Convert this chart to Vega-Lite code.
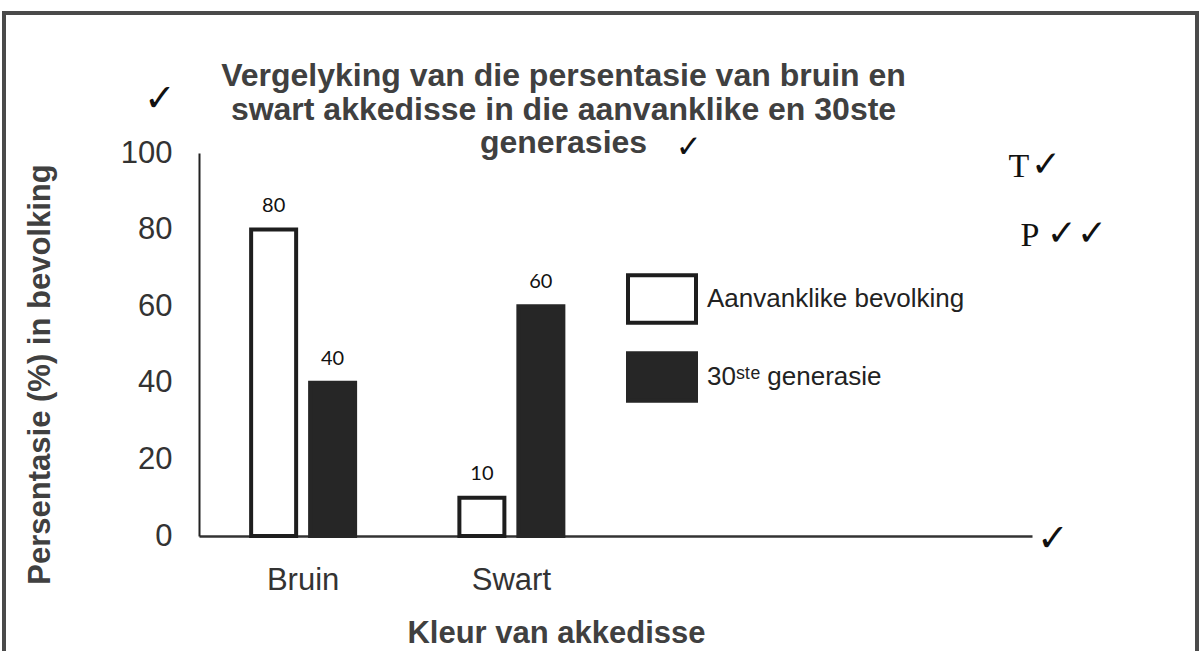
{
  "$schema": "https://vega.github.io/schema/vega-lite/v6.json",
  "width": 1193,
  "height": 660,
  "autosize": {"type": "none"},
  "padding": {"left": 4, "top": 13, "right": 5, "bottom": 0},
  "background": "white",
  "config": {
    "view": {"stroke": "#4a4a4a", "strokeWidth": 4},
    "font": "Liberation Sans"
  },
  "title": {
    "text": ["Vergelyking van die persentasie van  bruin en", "swart akkedisse in die aanvanklike en 30ste", "generasies"],
    "font": "Liberation Sans",
    "fontSize": 32,
    "fontWeight": "bold",
    "color": "#404040",
    "anchor": "middle",
    "frame": "group",
    "lineHeight": 33.5,
    "offset": 0,
    "dx": -37,
    "dy": 147
  },
  "datasets": {
    "balke": [
      {"kleur": "Bruin", "groep": "Aanvanklike bevolking", "pct": 80},
      {"kleur": "Bruin", "groep": "30ste generasie", "pct": 40},
      {"kleur": "Swart", "groep": "Aanvanklike bevolking", "pct": 10},
      {"kleur": "Swart", "groep": "30ste generasie", "pct": 60}
    ]
  },
  "layer": [
    {
      "data": {"name": "balke"},
      "mark": {"type": "bar", "strokeWidth": 4},
      "encoding": {
        "x": {
          "field": "kleur",
          "type": "nominal",
          "sort": null,
          "scale": {"domain": ["Bruin", "Swart", " ", "  "], "range": [195, 1028], "paddingInner": 0, "paddingOuter": 0},
          "axis": {
            "title": "Kleur van akkedisse",
            "offset": -137,
            "ticks": false,
            "tickSize": 0,
            "labelPadding": 29,
            "labelFontSize": 31,
            "labelColor": "#333333",
            "labelAngle": 0,
            "domainColor": "#333333",
            "domainWidth": 2.5,
            "titleFontSize": 31,
            "titleFontWeight": "bold",
            "titleColor": "#404040",
            "titleX": 552,
            "titleY": 97,
            "titleBaseline": "middle",
            "titleAlign": "center"
          }
        },
        "xOffset": {
          "field": "groep",
          "type": "nominal",
          "sort": null,
          "scale": {"domain": ["Aanvanklike bevolking", "30ste generasie"], "paddingInner": 0.237, "paddingOuter": 0.884}
        },
        "y": {
          "field": "pct",
          "type": "quantitative",
          "scale": {"domain": [0, 100], "range": [523, 140], "nice": false},
          "axis": {
            "title": "Persentasie (%) in bevolking",
            "values": [0, 20, 40, 60, 80, 100],
            "offset": -195,
            "grid": false,
            "ticks": false,
            "tickSize": 0,
            "labelPadding": 27,
            "labelFontSize": 31,
            "labelColor": "#333333",
            "domainColor": "#222222",
            "domainWidth": 2,
            "titleFontSize": 31,
            "titleFontWeight": "bold",
            "titleColor": "#404040",
            "titleX": -159,
            "titleY": 361,
            "titleAngle": -90,
            "titleAlign": "center",
            "titleBaseline": "middle"
          }
        },
        "fill": {
          "field": "groep",
          "type": "nominal",
          "scale": {"domain": ["Aanvanklike bevolking", "30ste generasie"], "range": ["#ffffff", "#262626"]},
          "legend": {
            "title": null,
            "orient": "none",
            "legendX": 622,
            "legendY": 250,
            "padding": 0,
            "symbolType": "M-1,-0.7H1V0.7H-1Z",
            "symbolSize": 4624,
            "symbolStrokeWidth": 4,
            "labelFontSize": 26,
            "labelFont": "Liberation Sans",
            "labelColor": "#222222",
            "labelOffset": 9,
            "rowPadding": 10,
            "labelLimit": 400,
            "labelExpr": "datum.label == '30ste generasie' ? '30ˢᵗᵉ generasie' : datum.label"
          }
        },
        "stroke": {
          "field": "groep",
          "type": "nominal",
          "scale": {"domain": ["Aanvanklike bevolking", "30ste generasie"], "range": ["#1e1e1e", "#262626"]},
          "legend": {
            "title": null,
            "orient": "none",
            "legendX": 622,
            "legendY": 250,
            "padding": 0,
            "symbolType": "M-1,-0.7H1V0.7H-1Z",
            "symbolSize": 4624,
            "symbolStrokeWidth": 4,
            "labelFontSize": 26,
            "labelFont": "Liberation Sans",
            "labelColor": "#222222",
            "labelOffset": 9,
            "rowPadding": 10,
            "labelLimit": 400,
            "labelExpr": "datum.label == '30ste generasie' ? '30ˢᵗᵉ generasie' : datum.label"
          }
        }
      }
    },
    {
      "data": {"name": "balke"},
      "mark": {"type": "text", "dy": -18, "baseline": "alphabetic", "font": "Lato", "fontSize": 20, "color": "#111111"},
      "encoding": {
        "x": {"field": "kleur", "type": "nominal"},
        "xOffset": {"field": "groep", "type": "nominal"},
        "y": {"field": "pct", "type": "quantitative"},
        "text": {"field": "pct", "type": "quantitative"}
      }
    },
    {
      "data": {"values": [{"teks": "✓"}]},
      "mark": {"type": "text", "dx": -39, "align": "center", "baseline": "middle", "font": "DejaVu Sans", "fontWeight": "bold", "fontSize": 38, "color": "#111111"},
      "encoding": {
        "x": {"datum": "Bruin", "bandPosition": 0},
        "y": {"datum": 113.8},
        "text": {"field": "teks"}
      }
    },
    {
      "data": {"values": [{"teks": "✓"}]},
      "mark": {"type": "text", "dx": -31, "align": "center", "baseline": "middle", "font": "DejaVu Sans", "fontWeight": "bold", "fontSize": 31, "color": "#111111"},
      "encoding": {
        "x": {"datum": " "},
        "y": {"datum": 101.3},
        "text": {"field": "teks"}
      }
    },
    {
      "data": {"values": [{"teks": "T"}]},
      "mark": {"type": "text", "dx": -13, "align": "center", "baseline": "middle", "font": "Liberation Serif", "fontSize": 34, "color": "#111111"},
      "encoding": {
        "x": {"datum": "  ", "bandPosition": 1},
        "y": {"datum": 96.3},
        "text": {"field": "teks"}
      }
    },
    {
      "data": {"values": [{"teks": "✓"}]},
      "mark": {"type": "text", "dx": 14, "align": "center", "baseline": "middle", "font": "DejaVu Sans", "fontWeight": "bold", "fontSize": 36, "color": "#111111"},
      "encoding": {
        "x": {"datum": "  ", "bandPosition": 1},
        "y": {"datum": 96.8},
        "text": {"field": "teks"}
      }
    },
    {
      "data": {"values": [{"teks": "P"}]},
      "mark": {"type": "text", "dx": -2, "align": "center", "baseline": "middle", "font": "Liberation Serif", "fontSize": 34, "color": "#111111"},
      "encoding": {
        "x": {"datum": "  ", "bandPosition": 1},
        "y": {"datum": 78.3},
        "text": {"field": "teks"}
      }
    },
    {
      "data": {"values": [{"teks": "✓✓"}]},
      "mark": {"type": "text", "dx": 45, "align": "center", "baseline": "middle", "font": "DejaVu Sans", "fontWeight": "bold", "fontSize": 36, "color": "#111111"},
      "encoding": {
        "x": {"datum": "  ", "bandPosition": 1},
        "y": {"datum": 78.8},
        "text": {"field": "teks"}
      }
    },
    {
      "data": {"values": [{"teks": "✓"}]},
      "mark": {"type": "text", "dx": 21, "align": "center", "baseline": "middle", "font": "DejaVu Sans", "fontWeight": "bold", "fontSize": 38, "color": "#111111"},
      "encoding": {
        "x": {"datum": "  ", "bandPosition": 1},
        "y": {"datum": -1},
        "text": {"field": "teks"}
      }
    }
  ]
}
